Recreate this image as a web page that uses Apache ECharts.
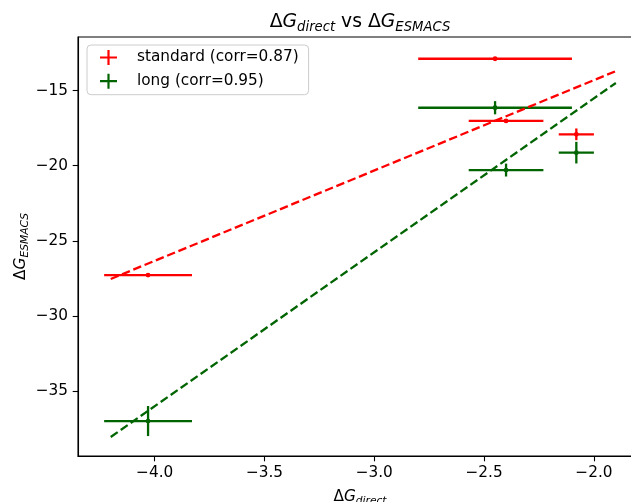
<!DOCTYPE html>
<html>
<head>
<meta charset="utf-8">
<script src="https://cdn.jsdelivr.net/npm/echarts@6/dist/echarts.min.js"></script>
<style>
  html, body { margin: 0; padding: 0; background: #ffffff; }
  #chart { width: 631px; height: 502px; }
</style>
</head>
<body>
<div id="chart"></div>
<script>
// ΔG from direct calculation (shared by both ESMACS protocols) and its error
const xDirect = [-4.03, -2.45, -2.40, -2.08];
const xDirectErr = [0.20, 0.35, 0.17, 0.08];

// ESMACS standard protocol
const yStandard = [-27.28, -12.88, -17.02, -17.91];
const yStandardErr = [0.10, 0.10, 0.10, 0.39];

// ESMACS long protocol
const yLong = [-37.00, -16.14, -20.29, -19.13];
const yLongErr = [1.00, 0.44, 0.43, 0.72];

// Linear fit end points
const fitX = [-4.2, -1.9];
const fitStandard = [-27.54, -13.70];
const fitLong = [-38.06, -14.49];

// Legend labels
const seriesNames = ['standard (corr=0.87)', 'long (corr=0.95)'];

// Tick values
const xTicks = [-4.0, -3.5, -3.0, -2.5, -2.0];
const yTicks = [-35, -30, -25, -20, -15];

const RED = '#ff0000';
const GREEN = '#006400';
const FONT = 'DejaVu Sans';
const LW = 2.3;

function rows(ys, yerr) {
  return xDirect.map((x, i) => [x, ys[i], xDirectErr[i], yerr[i]]);
}

function errorBarRenderer(color) {
  return function (params, api) {
    const x = api.value(0), y = api.value(1), xe = api.value(2), ye = api.value(3);
    const c = api.coord([x, y]);
    const l = api.coord([x - xe, y]);
    const r = api.coord([x + xe, y]);
    const t = api.coord([x, y + ye]);
    const b = api.coord([x, y - ye]);
    const ls = { stroke: color, lineWidth: LW };
    return {
      type: 'group',
      children: [
        { type: 'line', shape: { x1: l[0], y1: l[1], x2: r[0], y2: r[1] }, style: ls },
        { type: 'line', shape: { x1: t[0], y1: t[1], x2: b[0], y2: b[1] }, style: ls },
        { type: 'circle', shape: { cx: c[0], cy: c[1], r: 2.4 }, style: { fill: color } }
      ]
    };
  };
}

const minus = s => s.replace('-', '\u2212');
const crossIcon = 'path://M0,6.4H17V8.6H0Z M7.4,0H9.6V15H7.4Z';

const mathRich = {
  n: { fontFamily: FONT, fontSize: 18.8, fontWeight: 'normal', color: '#000' },
  i: { fontFamily: FONT, fontSize: 18.8, fontWeight: 'normal', fontStyle: 'italic', color: '#000' },
  s: { fontFamily: FONT, fontSize: 13.2, fontWeight: 'normal', fontStyle: 'italic', color: '#000', padding: [10, 0, 0, 0] }
};
const axisRich = {
  n: { fontFamily: FONT, fontSize: 15.3, color: '#000' },
  i: { fontFamily: FONT, fontSize: 15.3, fontStyle: 'italic', color: '#000' },
  s: { fontFamily: FONT, fontSize: 10.7, fontStyle: 'italic', color: '#000', padding: [8, 0, 0, 0] }
};

const chart = echarts.init(document.getElementById('chart'), null, { renderer: 'canvas' });

chart.setOption({
  backgroundColor: '#ffffff',
  animation: false,
  title: {
    text: '{n|\u0394}{i|G}{s|direct}{n| vs \u0394}{i|G}{s|ESMACS}',
    left: 355,
    top: 6,
    textAlign: 'center',
    textStyle: { fontWeight: 'normal', rich: mathRich }
  },
  legend: {
    orient: 'vertical',
    left: 87,
    top: 45,
    padding: [5, 10, 6, 13],
    itemWidth: 17,
    itemHeight: 15,
    itemGap: 8.7,
    backgroundColor: 'rgba(255,255,255,0.8)',
    borderColor: '#cccccc',
    borderWidth: 1,
    borderRadius: 4,
    textStyle: { fontFamily: FONT, fontSize: 15.3, color: '#000', padding: [0, 0, 0, 15] },
    data: [
      { name: seriesNames[0], icon: crossIcon },
      { name: seriesNames[1], icon: crossIcon }
    ]
  },
  grid: {
    left: 78,
    top: 37,
    width: 564,
    height: 419,
    outerBoundsMode: 'none',
    show: true,
    borderColor: '#000',
    borderWidth: 1.1,
    containLabel: false
  },
  xAxis: {
    type: 'value',
    min: -4.349,
    max: -1.781,
    name: '{n|\u0394}{i|G}{s|direct}',
    nameLocation: 'middle',
    nameGap: 32,
    nameMoveOverlap: false,
    nameTextStyle: { rich: axisRich },
    axisLine: { show: true, onZero: false, lineStyle: { color: '#000', width: 1.1 } },
    axisTick: { show: true, length: 5.3, customValues: xTicks, lineStyle: { color: '#000', width: 1.1 } },
    axisLabel: {
      customValues: xTicks,
      margin: 10,
      fontFamily: FONT,
      fontSize: 15.3,
      color: '#000',
      formatter: v => minus(Number(v).toFixed(1))
    },
    splitLine: { show: false }
  },
  yAxis: {
    type: 'value',
    min: -39.327,
    max: -11.431,
    name: '{n|\u0394}{i|G}{s|ESMACS}',
    nameLocation: 'middle',
    nameGap: 47,
    nameRotate: 90,
    nameMoveOverlap: false,
    nameTextStyle: { rich: axisRich },
    axisLine: { show: true, onZero: false, lineStyle: { color: '#000', width: 1.1 } },
    axisTick: { show: true, length: 5.3, customValues: yTicks, lineStyle: { color: '#000', width: 1.1 } },
    axisLabel: {
      customValues: yTicks,
      margin: 10,
      fontFamily: FONT,
      fontSize: 15.3,
      color: '#000',
      formatter: v => minus(String(Math.round(v)))
    },
    splitLine: { show: false }
  },
  series: [
    {
      name: seriesNames[0],
      type: 'custom',
      itemStyle: { color: RED },
      renderItem: errorBarRenderer(RED),
      data: rows(yStandard, yStandardErr),
      encode: { x: 0, y: 1 },
      z: 2
    },
    {
      name: seriesNames[1],
      type: 'custom',
      itemStyle: { color: GREEN },
      renderItem: errorBarRenderer(GREEN),
      data: rows(yLong, yLongErr),
      encode: { x: 0, y: 1 },
      z: 2
    },
    {
      name: 'fit standard',
      type: 'line',
      symbol: 'none',
      silent: true,
      data: fitX.map((x, i) => [x, fitStandard[i]]),
      lineStyle: { color: RED, width: LW, type: [8.5, 3.7] },
      z: 3
    },
    {
      name: 'fit long',
      type: 'line',
      symbol: 'none',
      silent: true,
      data: fitX.map((x, i) => [x, fitLong[i]]),
      lineStyle: { color: GREEN, width: LW, type: [8.5, 3.7] },
      z: 3
    }
  ]
});
</script>
</body>
</html>
